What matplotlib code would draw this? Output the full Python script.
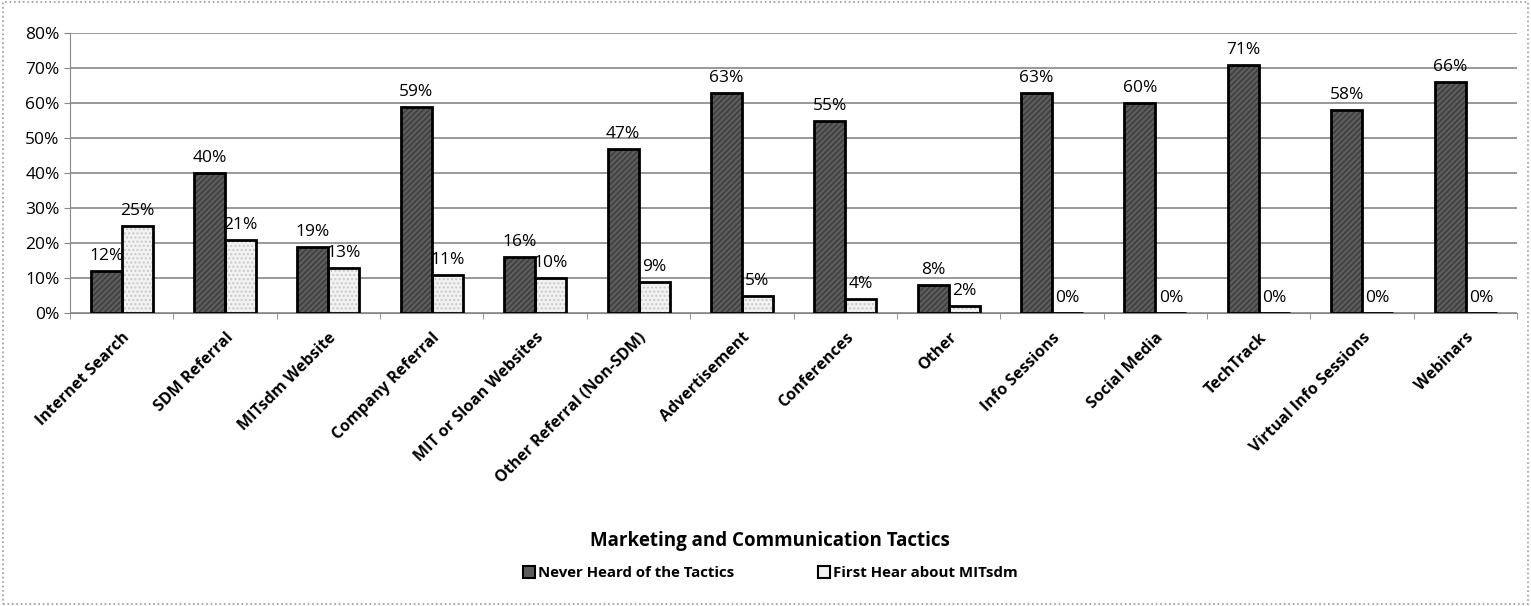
import numpy as np
import matplotlib.pyplot as plt
from matplotlib.patches import Rectangle

# Datos
tacticas = ["Internet Search", "SDM Referral", "MITsdm Website", "Company Referral",
            "MIT or Sloan Websites", "Other Referral (Non-SDM)", "Advertisement",
            "Conferences", "Other", "Info Sessions", "Social Media", "TechTrack",
            "Virtual Info Sessions", "Webinars"]
nunca_oido = [12, 40, 19, 59, 16, 47, 63, 55, 8, 63, 60, 71, 58, 66]
primera_vez = [25, 21, 13, 11, 10, 9, 5, 4, 2, 0, 0, 0, 0, 0]
yticks = [0, 10, 20, 30, 40, 50, 60, 70, 80]

plt.rcParams['font.family'] = ['Open Sans', 'DejaVu Sans']

fig = plt.figure(figsize=(15.31, 6.06), dpi=100)
ax = fig.add_axes([0.0457, 0.4835, 0.9453, 0.462])

x = np.arange(len(tacticas))
w = 0.3

# relleno con textura, luego borde negro encima
ax.bar(x - w / 2, nunca_oido, w, color='#5c5c5c', hatch='//////', edgecolor='#3c3c3c', linewidth=0, zorder=3)
ax.bar(x + w / 2, primera_vez, w, color='#f2f2f2', hatch='....', edgecolor='#c8c8c8', linewidth=0, zorder=3)
ax.bar(x - w / 2, nunca_oido, w, fill=False, edgecolor='black', linewidth=2, zorder=4)
ax.bar(x + w / 2, primera_vez, w, fill=False, edgecolor='black', linewidth=2, zorder=4)

for xi, v in zip(x, nunca_oido):
    ax.text(xi - w / 2, v + 2, f"{v}%", ha='center', va='bottom', fontsize=12.5, zorder=5)
for xi, v in zip(x, primera_vez):
    ax.text(xi + w / 2, v + 2, f"{v}%", ha='center', va='bottom', fontsize=12.5, zorder=5)

ax.set_xlim(-0.5, len(tacticas) - 0.5)
ax.set_ylim(0, 80)
ax.set_yticks(yticks)
ax.set_yticklabels([f"{t}%" for t in yticks], fontsize=12.5)
ax.yaxis.grid(True, color='#888888', linewidth=1.2, zorder=0)
ax.set_axisbelow(True)

ax.set_xticks(x)
ax.set_xticklabels(tacticas, rotation=45, ha='right', rotation_mode='anchor',
                   fontsize=11.5, fontweight='bold')
ax.tick_params(axis='x', length=0, pad=12)
ax.set_xticks(np.arange(len(tacticas) + 1) - 0.5, minor=True)
ax.tick_params(axis='x', which='minor', length=4, color='#888888')
ax.tick_params(axis='y', length=4, color='#888888')

for s in ['top', 'right']:
    ax.spines[s].set_visible(False)
ax.spines['left'].set_color('#888888')
ax.spines['bottom'].set_color('#888888')

fig.text(0.503, 0.108, "Marketing and Communication Tactics", ha='center', va='center',
         fontsize=13.5, fontweight='bold')

handles = [Rectangle((0, 0), 1, 1, facecolor='#5c5c5c', edgecolor='black', linewidth=1.5),
           Rectangle((0, 0), 1, 1, facecolor='#f2f2f2', edgecolor='black', linewidth=1.5)]
fig.legend(handles, ["Never Heard of the Tactics", "First Hear about MITsdm"],
           loc='center', bbox_to_anchor=(0.503, 0.054), ncol=2, frameon=False,
           prop={'weight': 'bold', 'size': 10.8}, handlelength=0.8, handleheight=0.8,
           handletextpad=0.2, columnspacing=5.6)

# borde punteado de la figura
fig.patches.append(Rectangle((0.002, 0.004), 0.996, 0.992, transform=fig.transFigure,
                             fill=False, edgecolor='#999999', linestyle=':', linewidth=1.2))

fig.savefig("out.png", dpi=100)
